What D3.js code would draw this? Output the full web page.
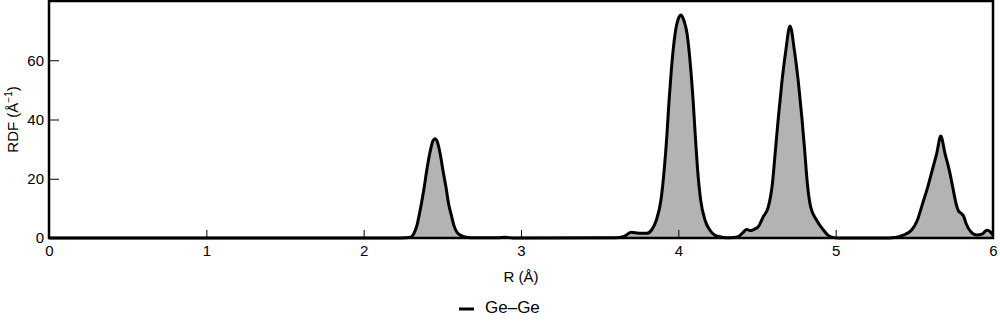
<!DOCTYPE html>
<html lang="en">
<head>
    <meta charset="UTF-8">
    <title>Ge-Ge RDF</title>
    <style>
        body { margin: 0; background: #fff; }
        text { font-family: "Liberation Sans", Arial, sans-serif; fill: #000; }
    </style>
</head>
<body>
    <div id="chart"></div>

    <script src="https://d3js.org/d3.v7.min.js"></script>
    <script>
        // R values (Angstrom)
        const rValues = [
            0, 2.2, 2.27, 2.3, 2.32, 2.34, 2.355, 2.37, 2.385, 2.4, 2.42, 2.44, 2.453, 2.466, 2.486, 2.505,
            2.523, 2.54, 2.556, 2.575, 2.592, 2.62, 2.66, 2.7, 2.85, 2.9, 2.95, 3.6, 3.65, 3.7, 3.75,
            3.8, 3.83, 3.86, 3.89, 3.911, 3.927, 3.94, 3.956, 3.979, 4.0, 4.017, 4.035, 4.056, 4.078,
            4.094, 4.107, 4.121, 4.142, 4.17, 4.2, 4.23, 4.265, 4.3, 4.33, 4.38, 4.41, 4.435, 4.456,
            4.48, 4.508, 4.54, 4.572, 4.598, 4.617, 4.636, 4.657, 4.683, 4.71, 4.738, 4.764, 4.785,
            4.803, 4.82, 4.841, 4.879, 4.922, 4.95, 4.975, 5.02, 5.3, 5.377, 5.43, 5.483, 5.519,
            5.553, 5.585, 5.614, 5.642, 5.668, 5.695, 5.722, 5.744, 5.765, 5.78, 5.8, 5.812, 5.829,
            5.859, 5.897, 5.93, 5.961, 5.985, 6
        ];
        // Ge-Ge RDF values (1/Angstrom)
        const rdfValues = [
            0, 0, 0.1, 0.3, 1.6, 4.5, 8.3, 12.5, 17.2, 22.5, 28.5, 32.8, 33.5, 32.8, 28.5, 22.5,
            17.2, 11.5, 8.0, 4.0, 2.0, 0.8, 0.2, 0.05, 0.1, 0.25, 0, 0.1, 0.4, 1.9, 1.6,
            1.6, 2.7, 6.0, 13.0, 23.5, 34.5, 45.5, 57.0, 68.8, 74.0, 75.3, 73.5, 68.8, 57.6,
            46.4, 35.2, 24.0, 12.8, 6.0, 2.7, 1.0, 0.4, 0.1, 0.1, 0.4, 1.8, 2.9, 2.5,
            2.9, 3.8, 7.2, 10.5, 18.4, 29.6, 40.8, 52.0, 63.2, 71.6, 63.2, 52.0, 40.8,
            29.6, 18.4, 10.5, 6.0, 2.7, 1.0, 0.3, 0, 0, 0.2, 1.0, 2.7, 6.0,
            11.7, 17.2, 22.9, 28.5, 34.4, 28.5, 22.9, 17.2, 11.7, 9.2, 8.2, 7.5, 4.9,
            2.1, 1.0, 1.3, 2.6, 2.0, 1.0
        ];
        const xTicks = [0, 1, 2, 3, 4, 5, 6];
        const yTicks = [0, 20, 40, 60];
        const seriesName = "Ge\u2013Ge";

        const width = 1000;
        const height = 322;
        const margin = { left: 49, right: 7, top: 1, bottom: 84 };

        const svg = d3.select("#chart")
            .append("svg")
            .attr("width", width)
            .attr("height", height);

        const x = d3.scaleLinear()
            .domain([0, 6])
            .range([margin.left, width - margin.right]);

        const y = d3.scaleLinear()
            .domain([0, 80])
            .range([height - margin.bottom, margin.top]);

        const data = rValues.map((r, i) => ({ r: r, g: rdfValues[i] }));

        // filled curve
        const area = d3.area()
            .x(d => x(d.r))
            .y0(y(0))
            .y1(d => y(d.g))
            .curve(d3.curveMonotoneX);

        const line = d3.line()
            .x(d => x(d.r))
            .y(d => y(d.g))
            .curve(d3.curveMonotoneX);

        svg.append("path")
            .datum(data)
            .attr("d", area)
            .attr("fill", "#b3b3b3");

        svg.append("path")
            .datum(data)
            .attr("d", line)
            .attr("fill", "none")
            .attr("stroke", "#000")
            .attr("stroke-width", 3)
            .attr("stroke-linejoin", "round");

        // axes with inward ticks
        const xAxis = svg.append("g")
            .attr("transform", `translate(0,${y(0)})`)
            .call(d3.axisBottom(x).tickValues(xTicks).tickSize(-8).tickPadding(7).tickFormat(d3.format("d")));

        const yAxis = svg.append("g")
            .attr("transform", `translate(${x(0)},0)`)
            .call(d3.axisLeft(y).tickValues(yTicks).tickSize(-10).tickPadding(5).tickFormat(d3.format("d")));

        [xAxis, yAxis].forEach(g => {
            g.select(".domain").remove();
            g.selectAll(".tick line").attr("stroke", "#000").attr("stroke-width", 1);
            g.selectAll(".tick text").style("font-size", "15px").attr("fill", "#000");
        });

        // frame
        svg.append("rect")
            .attr("x", x(0))
            .attr("y", y(80))
            .attr("width", x(6) - x(0))
            .attr("height", y(0) - y(80))
            .attr("fill", "none")
            .attr("stroke", "#000")
            .attr("stroke-width", 2.5);

        // axis titles
        svg.append("text")
            .attr("x", (x(0) + x(6)) / 2)
            .attr("y", 282)
            .attr("text-anchor", "middle")
            .style("font-size", "15px")
            .text("R (\u00C5)");

        const yTitle = svg.append("text")
            .attr("transform", `translate(18,${(y(0) + y(80)) / 2}) rotate(-90)`)
            .attr("text-anchor", "middle")
            .style("font-size", "15px");
        yTitle.append("tspan").text("RDF (\u00C5");
        yTitle.append("tspan").attr("dy", -6).style("font-size", "10px").text("\u22121");
        yTitle.append("tspan").attr("dy", 6).text(")");

        // legend
        svg.append("line")
            .attr("x1", 459)
            .attr("x2", 474)
            .attr("y1", 309)
            .attr("y2", 309)
            .attr("stroke", "#000")
            .attr("stroke-width", 3);

        svg.append("text")
            .attr("x", 485)
            .attr("y", 313)
            .style("font-size", "17px")
            .text(seriesName);
    </script>
</body>
</html>
